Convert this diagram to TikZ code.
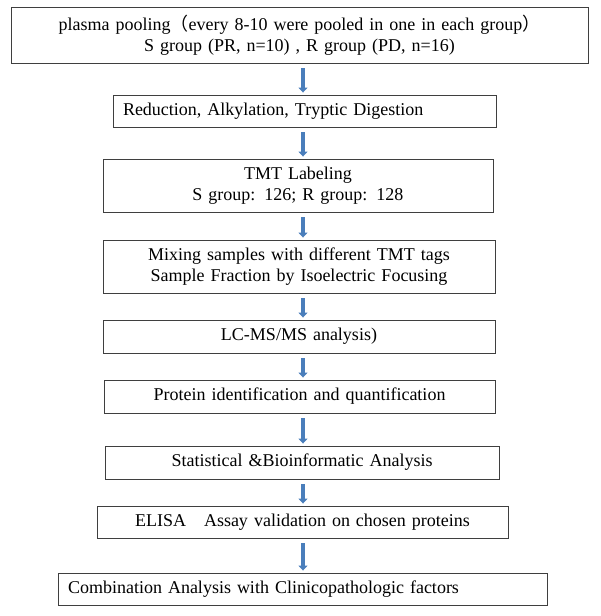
\documentclass[tikz,border=0pt]{standalone}
\usepackage{fontspec}
\setmainfont{Liberation Serif}
\newfontfamily\cjkfont{Noto Sans CJK SC}
\usetikzlibrary{arrows.meta}
\definecolor{boxline}{HTML}{3F3F3F}
\definecolor{arrowfill}{HTML}{4A7EBB}
\definecolor{arrowedge}{HTML}{385D8A}
\tikzset{
  flowbox/.style={draw=boxline, line width=0.9pt, inner ysep=0pt, inner xsep=10pt,
    font=\fontsize{18}{21}\selectfont, align=center},
  leftbox/.style={flowbox, align=left},
  flowarrow/.style={draw=arrowfill, line width=3.4pt, shorten <=5pt, shorten >=2pt,
    -{Triangle[width=9pt,length=5pt]}},
}
\begin{document}
\begin{tikzpicture}[x=1pt,y=-1pt]
\useasboundingbox (0,0) rectangle (600,616);
\coordinate (ax) at (303,0);
\node[flowbox, text width=557pt, minimum height=56pt] (b1) at (299.5,35)
  {plasma pooling{\cjkfont（}every 8-10 were pooled in one in each group{\cjkfont）}\\
   S group (PR, n=10) , R group (PD, n=16)};
\node[leftbox, text width=363pt, minimum height=32pt] (b2) at (304.5,111)
  {Reduction, Alkylation, Tryptic Digestion};
\node[flowbox, text width=370pt, minimum height=53pt] (b3) at (298,185.5)
  {TMT Labeling\\S group: 126; R group: 128};
\node[flowbox, text width=372pt, minimum height=53pt] (b4) at (299,266.5)
  {Mixing samples with different TMT tags\\Sample Fraction by Isoelectric Focusing};
\node[flowbox, text width=372pt, minimum height=33pt] (b5) at (299,336.5)
  {LC-MS/MS analysis)};
\node[flowbox, text width=371pt, minimum height=33pt] (b6) at (299.5,396.5)
  {Protein identification and quantification};
\node[flowbox, text width=374pt, minimum height=33pt] (b7) at (302,462.5)
  {Statistical \&Bioinformatic Analysis};
\node[flowbox, text width=391pt, minimum height=32pt] (b8) at (302.5,522)
  {ELISA~~~Assay validation on chosen proteins};
\node[leftbox, text width=469pt, minimum height=32pt] (b9) at (302.5,589)
  {Combination Analysis with Clinicopathologic factors};
\draw[flowarrow] (b1.south -| ax) -- (b2.north -| ax);
\draw[flowarrow] (b2.south -| ax) -- (b3.north -| ax);
\draw[flowarrow] (b3.south -| ax) -- (b4.north -| ax);
\draw[flowarrow] (b4.south -| ax) -- (b5.north -| ax);
\draw[flowarrow] (b5.south -| ax) -- (b6.north -| ax);
\draw[flowarrow] (b6.south -| ax) -- (b7.north -| ax);
\draw[flowarrow] (b7.south -| ax) -- (b8.north -| ax);
\draw[flowarrow] (b8.south -| ax) -- (b9.north -| ax);
\end{tikzpicture}
\end{document}
